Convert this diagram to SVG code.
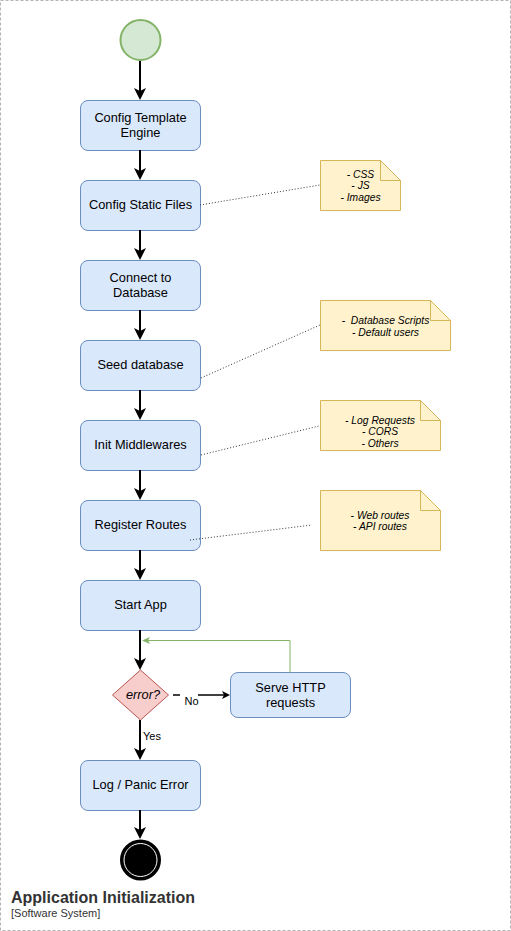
<svg xmlns="http://www.w3.org/2000/svg" width="511" height="931" viewBox="0 0 511 931">
<defs>
<style>
.box{fill:#dae8fc;stroke:#6c8ebf;stroke-width:1}
.lbl{font-family:"Liberation Sans",Arial,sans-serif;font-size:12.8px;fill:#000;text-anchor:middle}
.note{fill:#fff2cc;stroke:#d6b656;stroke-width:1}
.ntxt{font-family:"Liberation Sans",Arial,sans-serif;font-size:10.3px;font-style:italic;fill:#000;text-anchor:middle}
.flow{stroke:#000;stroke-width:2;fill:none}
.dot{stroke:#333;stroke-width:1;stroke-dasharray:1 2;fill:none}
.small{font-family:"Liberation Sans",Arial,sans-serif;font-size:11px;fill:#000}
</style>
<marker id="ah" viewBox="0 0 12 12" refX="3" refY="6" markerWidth="12" markerHeight="12" markerUnits="userSpaceOnUse" orient="auto">
<path d="M0,0 L12,6 L0,12 L3,6 Z" fill="#000"/>
</marker>
<marker id="ahs" viewBox="0 0 8 8" refX="2" refY="4" markerWidth="8" markerHeight="8" markerUnits="userSpaceOnUse" orient="auto">
<path d="M0,0 L8,4 L0,8 L2,4 Z" fill="#000"/>
</marker>
<marker id="ahg" viewBox="0 0 8 7" refX="2" refY="3.5" markerWidth="8" markerHeight="7" markerUnits="userSpaceOnUse" orient="auto">
<path d="M0,0 L8,3.5 L0,7 L2,3.5 Z" fill="#82b366"/>
</marker>
</defs>
<rect width="511" height="931" fill="#fff"/>
<rect id="frame" x="0.5" y="0.5" width="510" height="930" fill="none" stroke="#b3b3b3" stroke-width="1" stroke-dasharray="3 2"/>

<g id="start">
<circle cx="140.5" cy="40" r="20" fill="#d5e8d4" stroke="#82b366" stroke-width="2"/>
</g>

<g id="n1">
<rect class="box" x="80.5" y="100.5" width="120" height="50" rx="7.5"/>
<text class="lbl" x="140.5" y="122">Config Template</text>
<text class="lbl" x="140.5" y="137">Engine</text>
</g>
<g id="n2">
<rect class="box" x="80.5" y="180.5" width="120" height="50" rx="7.5"/>
<text class="lbl" x="140.5" y="209">Config Static Files</text>
</g>
<g id="n3">
<rect class="box" x="80.5" y="260.5" width="120" height="50" rx="7.5"/>
<text class="lbl" x="140.5" y="282">Connect to</text>
<text class="lbl" x="140.5" y="297">Database</text>
</g>
<g id="n4">
<rect class="box" x="80.5" y="340.5" width="120" height="50" rx="7.5"/>
<text class="lbl" x="140.5" y="369">Seed database</text>
</g>
<g id="n5">
<rect class="box" x="80.5" y="420.5" width="120" height="50" rx="7.5"/>
<text class="lbl" x="140.5" y="449">Init Middlewares</text>
</g>
<g id="n6">
<rect class="box" x="80.5" y="500.5" width="120" height="50" rx="7.5"/>
<text class="lbl" x="140.5" y="529">Register Routes</text>
</g>
<g id="n7">
<rect class="box" x="80.5" y="580.5" width="120" height="50" rx="7.5"/>
<text class="lbl" x="140.5" y="609">Start App</text>
</g>
<g id="decision">
<path d="M140.5,670 L168.5,695 L140.5,720 L112.5,695 Z" fill="#f8cecc" stroke="#b85450" stroke-width="1"/>
<text class="lbl" x="143" y="699" style="font-style:italic">error?</text>
</g>
<g id="serve">
<rect class="box" x="230.5" y="672.5" width="120" height="45" rx="7.5"/>
<text class="lbl" x="290.5" y="692">Serve HTTP</text>
<text class="lbl" x="290.5" y="707">requests</text>
</g>
<g id="n8">
<rect class="box" x="80.5" y="760.5" width="120" height="50" rx="7.5"/>
<text class="lbl" x="140.5" y="789">Log / Panic Error</text>
</g>
<g id="end">
<circle cx="140.5" cy="860" r="19" fill="#000" stroke="#000" stroke-width="3"/>
<circle cx="140.5" cy="860" r="16.5" fill="#000" stroke="#fff" stroke-width="1"/>
</g>

<g id="note1">
<path class="note" d="M320.5,160.5 L380.5,160.5 L400.5,180.5 L400.5,210.5 L320.5,210.5 Z"/>
<path d="M380.5,160.5 L380.5,180.5 L400.5,180.5" fill="none" stroke="#d6b656"/>
<text class="ntxt" x="360.5" y="177.5">- CSS</text>
<text class="ntxt" x="360.5" y="189">- JS</text>
<text class="ntxt" x="360.5" y="201">- Images</text>
</g>
<g id="note2">
<path class="note" d="M320.5,300.5 L430.5,300.5 L450.5,320.5 L450.5,350.5 L320.5,350.5 Z"/>
<path d="M430.5,300.5 L430.5,320.5 L450.5,320.5" fill="none" stroke="#d6b656"/>
<text class="ntxt" x="385.5" y="323.5" xml:space="preserve">-  Database Scripts</text>
<text class="ntxt" x="385.5" y="335.5">- Default users</text>
</g>
<g id="note3">
<path class="note" d="M320.5,400.5 L420.5,400.5 L440.5,420.5 L440.5,450.5 L320.5,450.5 Z"/>
<path d="M420.5,400.5 L420.5,420.5 L440.5,420.5" fill="none" stroke="#d6b656"/>
<text class="ntxt" x="380" y="423.5">- Log Requests</text>
<text class="ntxt" x="380" y="435">- CORS</text>
<text class="ntxt" x="380" y="446.5">- Others</text>
</g>
<g id="note4">
<path class="note" d="M320.5,490.5 L420.5,490.5 L440.5,510.5 L440.5,550.5 L320.5,550.5 Z"/>
<path d="M420.5,490.5 L420.5,510.5 L440.5,510.5" fill="none" stroke="#d6b656"/>
<text class="ntxt" x="380" y="518.5">- Web routes</text>
<text class="ntxt" x="380" y="530">- API routes</text>
</g>

<g id="connectors">
<line class="flow" x1="140" y1="61" x2="140" y2="91" marker-end="url(#ah)"/>
<line class="flow" x1="140" y1="150" x2="140" y2="171" marker-end="url(#ah)"/>
<line class="flow" x1="140" y1="230" x2="140" y2="251" marker-end="url(#ah)"/>
<line class="flow" x1="140" y1="310" x2="140" y2="331" marker-end="url(#ah)"/>
<line class="flow" x1="140" y1="390" x2="140" y2="411" marker-end="url(#ah)"/>
<line class="flow" x1="140" y1="470" x2="140" y2="491" marker-end="url(#ah)"/>
<line class="flow" x1="140" y1="550" x2="140" y2="571" marker-end="url(#ah)"/>
<line class="flow" x1="140" y1="630" x2="140" y2="661" marker-end="url(#ah)"/>
<line class="flow" x1="140" y1="720" x2="140" y2="751" marker-end="url(#ah)"/>
<line class="flow" x1="140" y1="810" x2="140" y2="830" marker-end="url(#ah)"/>
<line x1="173" y1="695" x2="224" y2="695" stroke="#000" stroke-width="1.3" marker-end="url(#ahs)"/>
<rect x="180" y="693" width="18" height="13" fill="#fff"/>
<text class="small" x="191.5" y="704.5" text-anchor="middle">No</text>
<text class="small" x="143" y="739.5">Yes</text>
<polyline points="290,672.5 290,640.5 148,640.5" fill="none" stroke="#82b366" stroke-width="1" marker-end="url(#ahg)"/>
<line class="dot" x1="200" y1="205" x2="320" y2="185"/>
<line class="dot" x1="201" y1="378" x2="320" y2="325"/>
<line class="dot" x1="201" y1="455" x2="319" y2="426"/>
<line class="dot" x1="190" y1="540" x2="312" y2="525"/>
</g>

<g id="title">
<text x="11" y="903" style="font-family:'Liberation Sans',Arial,sans-serif;font-size:16px;font-weight:bold;fill:#333">Application Initialization</text>
<text x="11" y="917" style="font-family:'Liberation Sans',Arial,sans-serif;font-size:11px;fill:#333">[Software System]</text>
</g>
</svg>
